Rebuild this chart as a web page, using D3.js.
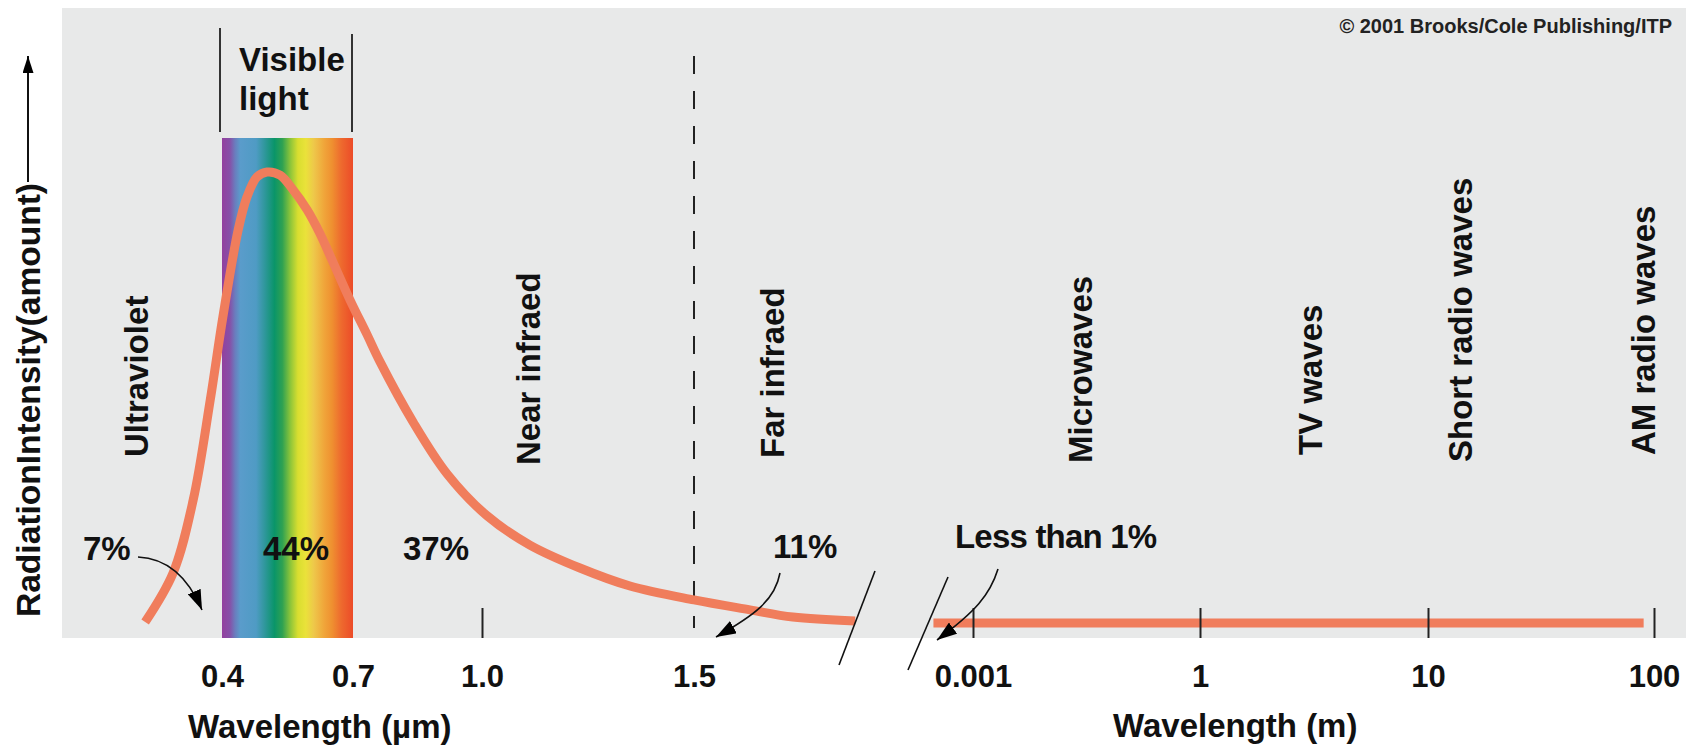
<!DOCTYPE html>
<html><head><meta charset="utf-8">
<script src="https://cdn.jsdelivr.net/npm/d3@7"></script>
<style>
html,body{margin:0;padding:0;background:#fff;}
svg{display:block;font-family:"Liberation Sans",Arial,Helvetica,sans-serif;font-weight:bold;}
</style></head><body>
<svg id="chart" width="1686" height="750"></svg>
<script>
// ---------- data ----------
const nearWavelength = [0.224,0.288,0.334,0.373,0.402,0.437,0.457,0.480,0.503,0.533,0.563,0.595,0.624,0.654,0.693,0.733,0.763,0.840,0.919,1.012,1.113,1.231,1.349,1.5,1.632,1.733,1.88];
const nearIntensity  = [0,10.9,27.1,49.3,67.8,87.1,94.4,98.9,100,99.3,96.0,91.6,86.4,80.0,71.6,63.8,57.8,44.4,32.9,23.6,17.1,12.0,8.0,4.9,2.7,1.1,0.2];
const farWavelength  = [0.0003,0.001,1,10,90];
const farIntensity   = [0,0,0,0,0];
const nearTicks = [0.4,0.7,1.0,1.5];
const nearTickLabels = ["0.4","0.7","1.0","1.5"];
const nearTickMarks = [1.0];
const farTicks = [0.001,1,10,100];
const farTickLabels = ["0.001","1","10","100"];
const visibleRange = [0.4,0.7];
const boundaryWavelength = 1.5;
const bandNames = ["Ultraviolet","Near infraed","Far infraed","Microwaves","TV waves","Short radio waves","AM radio waves"];
const shareLabels = ["7%","44%","37%","11%","Less than 1%"];

// ---------- layout ----------
const svg = d3.select("#chart");
const plot = {left:62, top:8, right:1686, bottom:638};
const txt = "#111";
const fontFam = "'Liberation Sans', Arial, Helvetica, sans-serif";

svg.append("rect").attr("x",plot.left).attr("y",plot.top)
  .attr("width",plot.right-plot.left).attr("height",plot.bottom-plot.top).attr("fill","#e8e9e9");

const xNear = d3.scaleLinear().domain(nearTicks).range([222,353,482,694]);
const xFar  = d3.scaleLog().domain(farTicks).range([973,1200,1428,1654]);
const y = d3.scaleLinear().domain([0,100]).range([622,172]);

const defs = svg.append("defs");
const grad = defs.append("linearGradient").attr("id","spec").attr("x1","0").attr("x2","1").attr("y1","0").attr("y2","0");
[[0,"#93409e"],[0.06,"#8650a8"],[0.10,"#6a7dbe"],[0.14,"#5a9ccb"],[0.26,"#4f9bc4"],[0.33,"#2d9799"],
 [0.40,"#0a9569"],[0.46,"#2ea152"],[0.52,"#8ac43a"],[0.58,"#d9de30"],[0.64,"#eae23a"],[0.70,"#eec84a"],
 [0.78,"#f0a53a"],[0.84,"#ef9030"],[0.91,"#ee6a2e"],[1,"#ec4b28"]]
 .forEach(s=>grad.append("stop").attr("offset",s[0]).attr("stop-color",s[1]));

function marker(id,len,wid){
  defs.append("marker").attr("id",id).attr("viewBox",`0 ${-wid/2} ${len} ${wid}`)
    .attr("refX",len).attr("refY",0).attr("markerWidth",len).attr("markerHeight",wid)
    .attr("markerUnits","userSpaceOnUse").attr("orient","auto")
    .append("path").attr("d",`M0,${-wid/2}L${len},0L0,${wid/2}Z`).attr("fill","#000");
}
marker("ah",20,14);
marker("ahY",17,11);

// visible band
svg.append("rect").attr("x",xNear(visibleRange[0])).attr("y",138)
  .attr("width",xNear(visibleRange[1])-xNear(visibleRange[0])).attr("height",plot.bottom-138)
  .attr("fill","url(#spec)");

// visible light brackets
svg.append("line").attr("x1",xNear(visibleRange[0])-2).attr("x2",xNear(visibleRange[0])-2).attr("y1",28).attr("y2",132).attr("stroke","#333").attr("stroke-width",2);
svg.append("line").attr("x1",xNear(visibleRange[1])-1).attr("x2",xNear(visibleRange[1])-1).attr("y1",34).attr("y2",132).attr("stroke","#333").attr("stroke-width",2);
svg.append("text").attr("x",239).attr("y",71).attr("font-size",33).attr("fill",txt).text("Visible");
svg.append("text").attr("x",239).attr("y",110).attr("font-size",33).attr("fill",txt).text("light");

// dashed boundary
svg.append("line").attr("x1",xNear(boundaryWavelength)).attr("x2",xNear(boundaryWavelength))
  .attr("y1",56).attr("y2",628).attr("stroke","#222").attr("stroke-width",2).attr("stroke-dasharray","18,17");

// curves
const curveColor = "#f07d5c";
const nearLine = d3.line().x(d=>xNear(d[0])).y(d=>y(d[1])).curve(d3.curveCatmullRom.alpha(0.5));
svg.append("path").attr("d",nearLine(d3.zip(nearWavelength,nearIntensity)))
  .attr("fill","none").attr("stroke",curveColor).attr("stroke-width",9);
const farLine = d3.line().x(d=>xFar(d[0])).y(d=>y(d[1])+1);
svg.append("path").attr("d",farLine(d3.zip(farWavelength,farIntensity)))
  .attr("fill","none").attr("stroke",curveColor).attr("stroke-width",9);

// axes
function styleAxis(g){
  g.select(".domain").remove();
  g.selectAll(".tick line").attr("stroke","#222").attr("stroke-width",2);
  g.selectAll(".tick text").attr("font-size",31).attr("font-family",fontFam).attr("font-weight","bold").attr("fill",txt);
}
const gN = svg.append("g").attr("transform",`translate(0,${plot.bottom})`)
  .call(d3.axisBottom(xNear).tickValues(nearTicks).tickFormat((d,i)=>nearTickLabels[i]).tickSize(-30).tickPadding(27));
styleAxis(gN);
gN.selectAll(".tick line").attr("opacity",d=>nearTickMarks.includes(d)?1:0);
const gF = svg.append("g").attr("transform",`translate(0,${plot.bottom})`)
  .call(d3.axisBottom(xFar).tickValues(farTicks).tickFormat((d,i)=>farTickLabels[i]).tickSize(-30).tickPadding(27));
styleAxis(gF);

// axis break marks
[[857,618,18,-47],[928,623.5,20,-46.5]].forEach(b=>{
  svg.append("line").attr("x1",b[0]-b[2]).attr("y1",b[1]-b[3]).attr("x2",b[0]+b[2]).attr("y2",b[1]+b[3])
    .attr("stroke","#111").attr("stroke-width",1.6);
});

// axis titles
svg.append("text").attr("x",188).attr("y",738).attr("font-size",33).attr("fill",txt).text("Wavelength (µm)");
svg.append("text").attr("x",1113).attr("y",737).attr("font-size",33).attr("fill",txt).text("Wavelength (m)");

// y label + arrow
svg.append("text").attr("transform","translate(40,617) rotate(-90)").attr("font-size",34)
  .attr("textLength",434).attr("lengthAdjust","spacingAndGlyphs").attr("fill",txt).text("RadiationIntensity(amount)");
svg.append("line").attr("x1",28).attr("x2",28).attr("y1",182).attr("y2",56)
  .attr("stroke","#111").attr("stroke-width",2).attr("marker-end","url(#ahY)");

// band labels (rotated)
const bandPos = [[148,457],[540,465],[784,458],[1092,463],[1322,455],[1472,462],[1655,455]];
bandNames.forEach((n,i)=>{
  svg.append("text").attr("transform",`translate(${bandPos[i][0]},${bandPos[i][1]}) rotate(-90)`)
    .attr("font-size",33).attr("fill",txt).text(n);
});

// share labels
const sharePos = [[83,560],[263,560],[403,560],[773,558],[955,548]];
shareLabels.forEach((s,i)=>{
  svg.append("text").attr("x",sharePos[i][0]).attr("y",sharePos[i][1]).attr("font-size",33)
    .attr("letter-spacing", i===4 ? -0.8 : 0).attr("fill",txt).text(s);
});

// curved arrows
["M138,557 C160,558 185,570 202,610",
 "M780,573 C775,600 755,615 716,637",
 "M998,569 C990,595 975,612 937,640"].forEach(d=>{
  svg.append("path").attr("d",d).attr("fill","none").attr("stroke","#111").attr("stroke-width",1.6).attr("marker-end","url(#ah)");
});

// copyright
svg.append("text").attr("x",1672).attr("y",33).attr("text-anchor","end").attr("font-size",20).attr("fill","#222")
  .text("© 2001 Brooks/Cole Publishing/ITP");
</script>
</body></html>
